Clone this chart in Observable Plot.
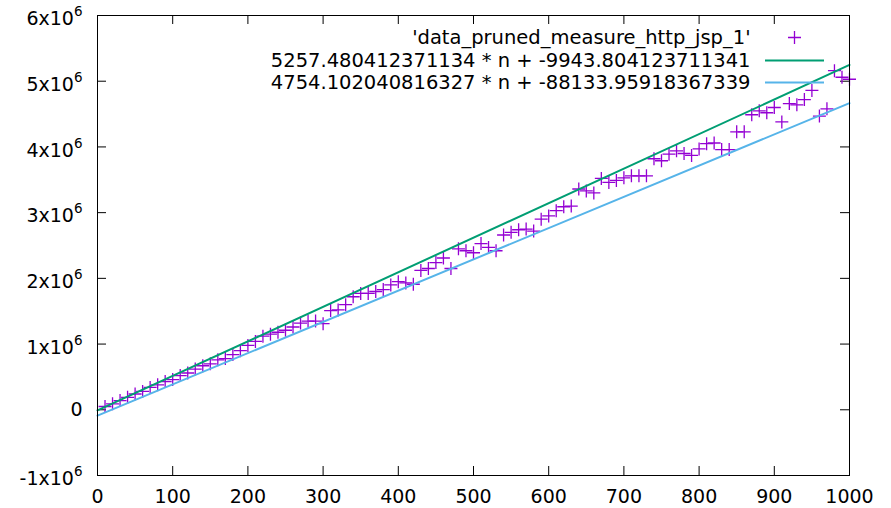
<!DOCTYPE html>
<html><head><meta charset="utf-8">
<script src="https://cdn.jsdelivr.net/npm/d3@7"></script>
<script src="https://cdn.jsdelivr.net/npm/@observablehq/plot@0.6"></script>
<style>body{margin:0;background:#fff}#chart{width:891px;height:508px}</style>
</head><body><div id="chart"></div>
<script>
const nValues = [10,20,30,40,50,60,70,80,90,100,110,120,130,140,150,160,170,180,190,200,
  210,220,230,240,250,260,270,280,290,300,310,320,330,340,350,360,370,380,390,400,
  410,420,430,440,450,460,470,480,490,500,510,520,530,540,550,560,570,580,590,600,
  610,620,630,640,650,660,670,680,690,700,710,720,730,740,750,760,770,780,790,800,
  810,820,830,840,850,860,870,880,890,900,910,920,930,940,950,960,970,980,990,1000];
const measured = [50000,90000,140000,190000,240000,280000,340000,380000,430000,460000,
  520000,560000,620000,670000,700000,760000,780000,840000,900000,980000,
  1040000,1120000,1150000,1180000,1210000,1260000,1320000,1350000,1350000,1310000,
  1510000,1520000,1600000,1720000,1770000,1770000,1800000,1830000,1900000,1950000,
  1930000,1910000,2120000,2150000,2240000,2310000,2150000,2450000,2420000,2390000,
  2530000,2470000,2420000,2660000,2700000,2740000,2750000,2720000,2900000,2950000,
  3030000,3090000,3100000,3360000,3330000,3300000,3520000,3460000,3490000,3530000,
  3560000,3560000,3560000,3820000,3790000,3890000,3940000,3900000,3870000,3970000,
  4050000,4060000,3960000,3960000,4230000,4230000,4490000,4550000,4520000,4600000,
  4380000,4660000,4640000,4720000,4860000,4470000,4580000,5160000,5060000,5030000];
const dataName = "'data_pruned_measure_http_jsp_1'";
const fitNames = ["5257.480412371134 * n + -9943.804123711341", "4754.102040816327 * n + -88133.95918367339"];
const fitSlopes = [5257.480412371134, 4754.102040816327];
const fitIntercepts = [-9943.804123711341, -88133.95918367339];
const xTicks = [0,100,200,300,400,500,600,700,800,900,1000];
const yTicks = [-1000000,0,1000000,2000000,3000000,4000000,5000000,6000000];
const xDomain = [0, 1000];
const yDomain = [-1000000, 6000000];

const colPoints = "#9400d3", fitColors = ["#009e73", "#56b4e9"];
const W = 891, H = 508, mL = 97, mR = 42, mT = 15, mB = 33;
const plotW = W - mL - mR, plotH = H - mT - mB, tickLen = 9;
const tickFont = 19, legendFont = 19.5;

const plusSymbol = {draw(ctx) { const r = 6.5; ctx.moveTo(-r, 0); ctx.lineTo(r, 0); ctx.moveTo(0, -r); ctx.lineTo(0, r); }};
const dashSymbol = {draw(ctx) { const r = 29.5; ctx.moveTo(-r, 0); ctx.lineTo(r, 0); }};

const points = nValues.map((n, i) => ({n, v: measured[i]}));
const fits = fitSlopes.map((a, k) => xDomain.map(n => ({n, v: a * n + fitIntercepts[k], k})));

const legendDx = -99, legendSampleDx = -55, legendRows = [22, 45, 67];

const chart = Plot.plot({
  width: W, height: H, marginLeft: mL, marginRight: mR, marginTop: mT, marginBottom: mB,
  style: {fontFamily: "DejaVu Sans", fontSize: "18px", color: "#000", background: "#fff"},
  x: {domain: xDomain},
  y: {domain: yDomain},
  marks: [
    Plot.axisX(xTicks, {tickSize: 0, tickPadding: 14, fontSize: tickFont, label: null, tickFormat: d => String(d)}),
    Plot.axisY(yTicks, {tickSize: 0, tickPadding: 15, fontSize: tickFont, label: null,
      tickFormat: d => d === 0 ? "0" : `${d / 1e6}x10^6`}),
    Plot.tickX(xTicks, {x: d => d, insetTop: plotH - tickLen, stroke: "#000"}),
    Plot.tickX(xTicks, {x: d => d, insetBottom: plotH - tickLen, stroke: "#000"}),
    Plot.tickY(yTicks, {y: d => d, insetRight: plotW - tickLen, stroke: "#000"}),
    Plot.tickY(yTicks, {y: d => d, insetLeft: plotW - tickLen, stroke: "#000"}),
    Plot.dot(points, {x: "n", y: "v", symbol: plusSymbol, stroke: colPoints, strokeWidth: 1.3}),
    ...fits.map((f, k) => Plot.line(f, {x: "n", y: "v", stroke: fitColors[k], strokeWidth: 2})),
    Plot.frame({stroke: "#000", strokeWidth: 1}),
    Plot.text([dataName], {frameAnchor: "top-right", text: d => d, textAnchor: "end", lineAnchor: "middle", dx: legendDx, dy: legendRows[0], fontSize: legendFont, fill: "#000"}),
    Plot.dot([0], {frameAnchor: "top-right", dx: legendSampleDx, dy: legendRows[0], symbol: plusSymbol, stroke: colPoints, strokeWidth: 1.3}),
    ...fitNames.map((name, k) => Plot.text([name], {frameAnchor: "top-right", text: d => d, textAnchor: "end", lineAnchor: "middle", dx: legendDx, dy: legendRows[k + 1], fontSize: legendFont, fill: "#000"})),
    ...fitNames.map((name, k) => Plot.dot([0], {frameAnchor: "top-right", dx: legendSampleDx, dy: legendRows[k + 1], symbol: dashSymbol, stroke: fitColors[k], strokeWidth: 2}))
  ]
});

// superscript exponents on y tick labels
chart.querySelectorAll('g[aria-label="y-axis tick label"] text').forEach(t => {
  const s = t.textContent;
  if (!s.includes("^")) return;
  const [base, exp] = s.split("^");
  t.textContent = "";
  const ns = "http://www.w3.org/2000/svg";
  const b = document.createElementNS(ns, "tspan");
  b.setAttribute("dy", "3.5"); b.textContent = base;
  const e = document.createElementNS(ns, "tspan");
  e.setAttribute("dy", "-9"); e.setAttribute("font-size", "13.5"); e.textContent = exp;
  t.append(b, e);
});
document.getElementById("chart").append(chart);
</script></body></html>
